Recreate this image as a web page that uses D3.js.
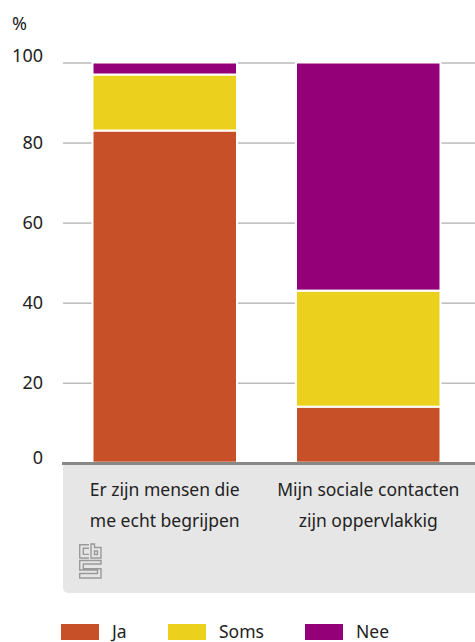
<!DOCTYPE html>
<html>
<head>
<meta charset="utf-8">
<script src="https://cdn.jsdelivr.net/npm/d3@7"></script>
<style>
  body { margin: 0; background: #fff; }
  svg { display: block; font-family: "Noto Sans", sans-serif; }
</style>
</head>
<body>
<svg id="chart"></svg>
<script>
'use strict';
(function() {
  // data
  var categories = ["Er zijn mensen die me echt begrijpen", "Mijn sociale contacten zijn oppervlakkig"];
  var categoryLines = [["Er zijn mensen die", "me echt begrijpen"], ["Mijn sociale contacten", "zijn oppervlakkig"]];
  var seriesNames = ["Ja", "Soms", "Nee"];
  var jaValues = [83, 14];
  var somsValues = [14, 29];
  var neeValues = [3, 57];
  var yTicks = [0, 20, 40, 60, 80, 100];
  var colors = ["#c85028", "#ebd01e", "#940078"];

  var width = 475, height = 642;
  var svg = d3.select("#chart").attr("width", width).attr("height", height);

  var rows = categories.map(function(c, i) {
    return { cat: c, Ja: jaValues[i], Soms: somsValues[i], Nee: neeValues[i] };
  });

  var x = d3.scaleBand().domain(categories).range([63, 470])
    .paddingInner(0.29).paddingOuter(0.145);
  var y = d3.scaleLinear().domain([0, 100]).range([462.7, 62.5]);
  var color = d3.scaleOrdinal().domain(seriesNames).range(colors);

  // grey label panel
  var px = 63, py = 464, pw = 420, ph = 129, r = 6;
  svg.append("path")
    .attr("d", "M" + px + "," + py + "H" + (px + pw) + "V" + (py + ph) + "H" + (px + r) +
      "Q" + px + "," + (py + ph) + " " + px + "," + (py + ph - r) + "Z")
    .attr("fill", "#e6e6e6");

  // gridlines + tick labels
  var yAxis = svg.append("g")
    .attr("transform", "translate(63,0)")
    .call(d3.axisLeft(y).tickValues(yTicks).tickSize(-412).tickPadding(20));
  yAxis.select(".domain").remove();
  yAxis.selectAll(".tick line").attr("stroke", "#999").attr("stroke-width", 1)
    .filter(function(d) { return d === 0; }).remove();
  yAxis.selectAll(".tick text")
    .attr("font-family", "Noto Sans")
    .attr("font-size", 18)
    .attr("fill", "#222")
    .attr("dy", function(d) { return d === 100 ? "-0.05em" : (d === 0 ? "0.05em" : "0.35em"); });

  svg.append("text")
    .attr("x", 12).attr("y", 30)
    .attr("font-size", 18).attr("fill", "#222")
    .text("%");

  // stacked bars
  var stacked = d3.stack().keys(seriesNames)(rows);
  svg.append("g").selectAll("g")
    .data(stacked)
    .enter().append("g")
    .attr("fill", function(d) { return color(d.key); })
    .selectAll("rect")
    .data(function(d) { return d; })
    .enter().append("rect")
    .attr("x", function(d) { return x(d.data.cat); })
    .attr("width", x.bandwidth())
    .attr("y", function(d) { return y(d[1]); })
    .attr("height", function(d) { return y(d[0]) - y(d[1]); })
    .attr("stroke", "#fff")
    .attr("stroke-width", 2);

  // baseline
  svg.append("line")
    .attr("x1", 62).attr("x2", width)
    .attr("y1", y(0) + 0.8).attr("y2", y(0) + 0.8)
    .attr("stroke", "#888").attr("stroke-width", 3);

  // category labels
  var labels = svg.append("g").selectAll("text")
    .data(categories)
    .enter().append("text")
    .attr("text-anchor", "middle")
    .attr("font-size", 17.5)
    .attr("fill", "#222");
  labels.each(function(d, i) {
    var t = d3.select(this);
    categoryLines[i].forEach(function(line, j) {
      t.append("tspan")
        .attr("x", x(d) + x.bandwidth() / 2)
        .attr("y", 495.5 + j * 31.5)
        .text(line);
    });
  });

  // cbs logo
  var logo = svg.append("g")
    .attr("transform", "translate(79,544)")
    .attr("fill", "none").attr("stroke", "#9a9a9a").attr("stroke-width", 1.4);
  logo.append("path").attr("d",
    "M10,0.7H0.7V14H10M10,4.3H4.3V10.4H10" +
    "M12,0V14H22V3.5H15.5V0Z M15.5,7H18.5V10.5H15.5Z" +
    "M22,16.5H0.7V26H18.5V29.5H0.7V34H22V24.7H4.3V20H22Z");

  // legend
  var legendX = [61, 168, 305];
  var legend = svg.append("g").selectAll("g")
    .data(seriesNames)
    .enter().append("g")
    .attr("transform", function(d, i) { return "translate(" + legendX[i] + ",624)"; });
  legend.append("rect")
    .attr("width", 38).attr("height", 16)
    .attr("fill", function(d) { return color(d); });
  legend.append("text")
    .attr("x", 51).attr("y", 14)
    .attr("font-size", 17.5).attr("fill", "#222")
    .text(function(d) { return d; });
})();
</script>
</body>
</html>
